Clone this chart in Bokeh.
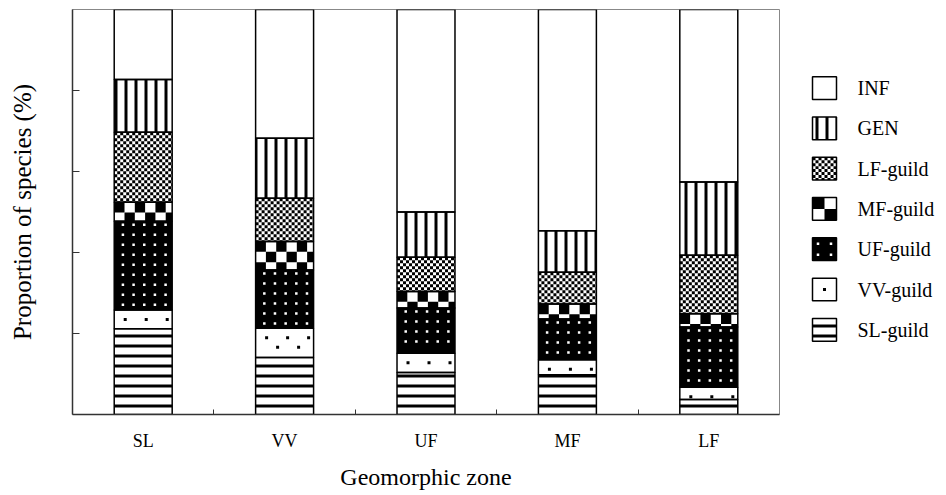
import numpy as np
from bokeh.plotting import figure
from bokeh.layouts import row
from bokeh.models import FixedTicker, Range1d, ColumnDataSource
from bokeh.core.properties import value
from bokeh.embed import file_html
from bokeh.resources import INLINE

# ---- data (% of species) ----
zones = ["SL", "VV", "UF", "MF", "LF"]
guilds = ["SL-guild", "VV-guild", "UF-guild", "MF-guild", "LF-guild", "GEN", "INF"]
sl_guild = [21.2, 14.1, 10.4, 9.8, 3.7]
vv_guild = [4.6, 7.2, 4.7, 3.7, 3.0]
uf_guild = [21.9, 14.4, 11.2, 10.1, 14.9]
mf_guild = [4.7, 7.0, 4.1, 3.7, 3.3]
lf_guild = [17.3, 10.7, 8.4, 7.8, 14.4]
gen = [13.0, 14.8, 11.2, 10.3, 18.1]
inf = [17.3, 31.8, 50.0, 54.6, 42.6]
y_ticks = [20, 40, 60, 80]

SERIF = "Liberation Serif"

# ---- styles per layer (bottom -> top) ----
layers = [sl_guild, vv_guild, uf_guild, mf_guild, lf_guild, gen, inf]
fill_colors = ["white", "white", "black", "white", "white", "white", "white"]
builtin_hatch = ["horizontal_line", "blank", "blank", "blank", "blank", "vertical_line", "blank"]
# overlay kind drawn with glyphs
overlay = [None, "sparse_dots", "white_dots", "big_checker", "fine_checker", None, None]

FW, FH = 707, 405
BL, BT, BR, BB = 72, 9, 2, 73           # borders of the main figure
X0, X1, Y0, Y1 = 0.5, 5.5, 0.0, 100.0
UX, UY = FW / (X1 - X0), FH / (Y1 - Y0)   # px per data unit
BAR_W = 0.41


def checker_quads(left, right, top, bottom, cw, ch):
    """Black cells of a checkerboard anchored at the top-left corner."""
    h = abs(top - bottom)
    s = 1.0 if bottom > top else -1.0
    L, R, T, B = [], [], [], []
    nr = int(np.ceil(h / ch - 1e-9))
    nc = int(np.ceil((right - left) / cw - 1e-9))
    for r in range(nr):
        y0 = top + s * r * ch
        y1 = top + s * min((r + 1) * ch, h)
        for c in range(nc):
            if (r + c) % 2:
                continue
            L.append(left + c * cw)
            R.append(min(left + (c + 1) * cw, right))
            T.append(y0)
            B.append(y1)
    return L, R, T, B


def dot_centers(left, right, top, bottom, ux, uy, sx, sy, ox, oy, stagger, edge):
    """Centres of a dot lattice (spacing in px) inside a box given in data units."""
    w_px = (right - left) * ux
    h_px = abs(top - bottom) * uy
    s = 1.0 if bottom > top else -1.0
    xs, ys = [], []
    r = 0
    py = oy
    while py <= h_px - edge + 1e-9:
        px = (ox + (r % 2) * stagger) % sx
        while px <= w_px - edge + 1e-9:
            if px >= edge - 1e-9:
                xs.append(left + px / ux)
                ys.append(top + s * py / uy)
            px += sx
        r += 1
        py = oy + r * sy
    return xs, ys


def draw_overlay(fig, kind, left, right, top, bottom, ux, uy, legend=False):
    if kind == "fine_checker":
        L, R, T, B = checker_quads(left, right, top, bottom, 3.0 / ux, 3.0 / uy)
        fig.quad(left=L, right=R, top=T, bottom=B, fill_color="black", line_color=None)
    elif kind == "big_checker":
        cw = (12.0 if legend else 10.3) / ux
        ch = (11.5 if legend else 10.3) / uy
        L, R, T, B = checker_quads(left, right, top, bottom, cw, ch)
        fig.quad(left=L, right=R, top=T, bottom=B, fill_color="black", line_color=None)
    elif kind == "white_dots":
        if legend:
            xs, ys = dot_centers(left, right, top, bottom, ux, uy, 13, 11, 5.5, 6, 0, 3)
        else:
            xs, ys = dot_centers(left, right, top, bottom, ux, uy, 10.67, 10, 8.7, 3.5, 0, 2)
        fig.rect(x=xs, y=ys, width=2.5, height=2.5, width_units="screen",
                 height_units="screen", fill_color="white", line_color=None)
    elif kind == "sparse_dots":
        if legend:
            xs, ys = [(left + right) / 2], [(top + bottom) / 2]
        else:
            xs, ys = dot_centers(left, right, top, bottom, ux, uy, 21, 9.5, 11, 9.5, 11, 2.5)
        fig.rect(x=xs, y=ys, width=3, height=3, width_units="screen",
                 height_units="screen", fill_color="black", line_color=None)


# ---------------- main chart ----------------
xpos = np.arange(1, len(zones) + 1)
vals = np.array(layers, dtype=float)
tops = np.cumsum(vals, axis=0)
bottoms = tops - vals

p = figure(frame_width=FW, frame_height=FH, output_backend="svg",
           toolbar_location=None, x_range=Range1d(X0, X1), y_range=Range1d(Y0, Y1),
           min_border_left=BL, min_border_top=BT, min_border_right=BR,
           min_border_bottom=BB, background_fill_color="white")

for k in range(len(layers)):
    src = ColumnDataSource(dict(x=xpos, top=tops[k], bottom=bottoms[k]))
    p.vbar(x="x", top="top", bottom="bottom", width=BAR_W, source=src,
           fill_color=fill_colors[k], line_color=None,
           hatch_pattern=builtin_hatch[k], hatch_color="black",
           hatch_scale=10, hatch_weight=3)
    if overlay[k] is not None:
        for i in range(len(zones)):
            draw_overlay(p, overlay[k], xpos[i] - BAR_W / 2, xpos[i] + BAR_W / 2,
                         tops[k][i], bottoms[k][i], UX, UY)
for k in range(len(layers)):
    src = ColumnDataSource(dict(x=xpos, top=tops[k], bottom=bottoms[k]))
    p.vbar(x="x", top="top", bottom="bottom", width=BAR_W, source=src,
           fill_color=None, line_color="black", line_width=1.5)

p.xgrid.visible = False
p.ygrid.visible = False
p.outline_line_color = "#888888"
p.outline_line_width = 1

xa = p.xaxis[0]
xa.ticker = FixedTicker(ticks=list(xpos), minor_ticks=[1.5, 2.5, 3.5, 4.5])
xa.major_label_overrides = {i + 1: z for i, z in enumerate(zones)}
xa.major_tick_line_color = None
xa.major_tick_out = 0
xa.major_tick_in = 0
xa.minor_tick_in = 5
xa.minor_tick_out = 0
xa.minor_tick_line_color = "#333333"
xa.axis_line_color = "#333333"
xa.axis_line_width = 1.5
xa.major_label_text_font = SERIF
xa.major_label_text_font_size = "18px"
xa.major_label_text_color = "black"
xa.major_label_standoff = 16
xa.axis_label = "Geomorphic zone"
xa.axis_label_text_font = SERIF
xa.axis_label_text_font_size = "24px"
xa.axis_label_text_font_style = "normal"
xa.axis_label_text_color = "black"
xa.axis_label_standoff = 10

ya = p.yaxis[0]
ya.ticker = FixedTicker(ticks=y_ticks, minor_ticks=[])
ya.major_label_overrides = {t: "" for t in y_ticks}
ya.major_tick_in = 7
ya.major_tick_out = 0
ya.major_tick_line_color = "#333333"
ya.minor_tick_line_color = None
ya.axis_line_color = "#333333"
ya.axis_line_width = 1.5
ya.major_label_standoff = 0
ya.axis_label = "Proportion of species (%)"
ya.axis_label_text_font = SERIF
ya.axis_label_text_font_size = "25px"
ya.axis_label_text_font_style = "normal"
ya.axis_label_text_color = "black"
ya.axis_label_standoff = 37

# ---------------- legend panel (pixel-unit figure, page coordinates) ----------------
LX0 = BL + FW + BR            # page x where the legend panel starts
LW = 161
LH = BT + FH + BB
leg = figure(width=LW, height=LH, output_backend="svg", toolbar_location=None,
             x_range=Range1d(LX0, LX0 + LW), y_range=Range1d(BT + FH, BT),
             x_axis_location=None, y_axis_location=None,
             min_border_left=0, min_border_right=0,
             min_border_top=BT, min_border_bottom=BB, outline_line_color=None)
leg.xgrid.visible = False
leg.ygrid.visible = False

BOX_L, BOX_W, BOX_H, FIRST_TOP, STEP, LABEL_X = 812, 24, 23, 77, 40.8, 857
order = list(range(len(guilds)))[::-1]          # INF first
for row_i, k in enumerate(order):
    t = FIRST_TOP + row_i * STEP
    b = t + BOX_H
    leg.quad(left=[BOX_L], right=[BOX_L + BOX_W], top=[t], bottom=[b],
             fill_color=fill_colors[k], line_color=None,
             hatch_pattern=builtin_hatch[k], hatch_color="black",
             hatch_scale=10, hatch_weight=3)
    if overlay[k] is not None:
        draw_overlay(leg, overlay[k], BOX_L, BOX_L + BOX_W, t, b, 1.0, 1.0, legend=True)
    leg.quad(left=[BOX_L], right=[BOX_L + BOX_W], top=[t], bottom=[b],
             fill_color=None, line_color="black", line_width=1.5)
    leg.text(x=[LABEL_X], y=[(t + b) / 2], text=[guilds[k]],
             text_font=value(SERIF), text_font_size="20px",
             text_baseline="middle", text_align="left", text_color="black")

open("out.html", "w").write(file_html(row(p, leg), INLINE))
